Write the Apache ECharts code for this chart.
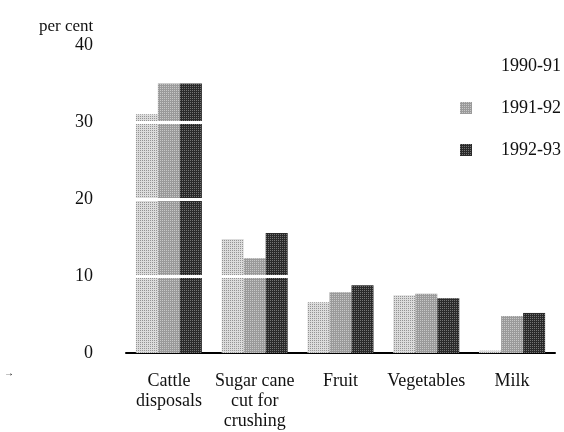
<!DOCTYPE html>
<html>
<head>
<meta charset="utf-8">
<script src="https://cdn.jsdelivr.net/npm/echarts@6/dist/echarts.min.js"></script>
<style>
  html, body { margin: 0; padding: 0; background: #fff; }
  #chart { width: 564px; height: 432px; }
</style>
</head>
<body>
<div id="chart"></div>
<script>
var categories = ['Cattle\ndisposals', 'Sugar cane\ncut for\ncrushing', 'Fruit', 'Vegetables', 'Milk'];
var years = ['1990-91', '1991-92', '1992-93'];
var y1990 = [31, 14.8, 6.6, 7.5, 0.3];
var y1991 = [35, 12.3, 7.9, 7.7, 4.8];
var y1992 = [35, 15.6, 8.8, 7.1, 5.2];
var gapLines = [10, 20, 30];

var serif = "'Liberation Serif', 'DejaVu Serif', serif";
var colors = ['#dcdcdc', '#9a9a9a', '#2a2a2a'];
var dots = ['rgba(90,90,90,0.55)', 'rgba(255,255,255,0.45)', 'rgba(255,255,255,0.35)'];

var chartDom = document.getElementById('chart');
var myChart = echarts.init(chartDom);
var option;

function makeSeries(name, data, color, dot) {
    return {
        name: name,
        type: 'bar',
        data: data,
        barWidth: 22,
        barGap: '0%',
        itemStyle: {
            color: color,
            decal: {
                symbol: 'rect',
                symbolSize: 1,
                dashArrayX: [1, 1],
                dashArrayY: [1, 1],
                rotation: 0,
                color: dot
            }
        }
    };
}

var series = [
    makeSeries(years[0], y1990, colors[0], dots[0]),
    makeSeries(years[1], y1991, colors[1], dots[1]),
    makeSeries(years[2], y1992, colors[2], dots[2])
];
// white breaks that run through the bars at each gridline
series[2].markLine = {
    silent: true,
    symbol: 'none',
    z: 10,
    label: { show: false },
    lineStyle: { color: '#ffffff', width: 3, type: 'solid' },
    data: gapLines.map(function (v) { return { yAxis: v }; })
};

option = {
    backgroundColor: '#fff',
    animation: false,
    aria: { enabled: false, decal: { show: true } },
    title: {
        text: 'per cent',
        left: 34,
        top: 13,
        textStyle: { fontFamily: serif, fontSize: 17, fontWeight: 'normal', color: '#111' }
    },
    legend: {
        orient: 'vertical',
        left: 455,
        top: 52,
        itemWidth: 12,
        itemHeight: 12,
        itemGap: 24,
        icon: 'rect',
        textStyle: { fontFamily: serif, fontSize: 18, color: '#111', padding: [0, 0, 0, 24] },
        data: [
            { name: years[0], itemStyle: { opacity: 0 } },
            { name: years[1] },
            { name: years[2] }
        ]
    },
    grid: {
        left: 126,
        right: 9,
        top: 45,
        bottom: 79
    },
    xAxis: {
        type: 'category',
        data: categories,
        axisLine: { lineStyle: { color: '#000', width: 2 } },
        axisTick: { show: false },
        axisLabel: {
            fontFamily: serif,
            fontSize: 18,
            color: '#111',
            margin: 18,
            lineHeight: 20,
            interval: 0
        }
    },
    yAxis: {
        type: 'value',
        min: 0,
        max: 40,
        interval: 10,
        axisLine: { show: false },
        axisTick: { show: false },
        splitLine: { show: false },
        axisLabel: {
            fontFamily: serif,
            fontSize: 18,
            color: '#111',
            margin: 33
        }
    },
    graphic: [{
        type: 'text',
        left: 4,
        top: 368,
        style: { text: '→', fontSize: 10, fill: '#111' }
    }],
    series: series
};

option && myChart.setOption(option);
</script>
</body>
</html>
